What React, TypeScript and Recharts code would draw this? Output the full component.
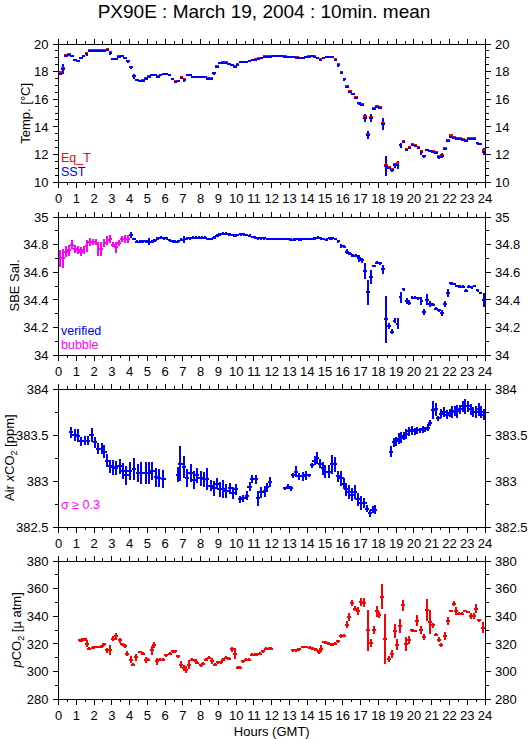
import React from 'react';
import { ScatterChart, Scatter, XAxis, YAxis, ErrorBar } from 'recharts';

// ---------------- data ----------------
const TITLE = 'PX90E : March 19, 2004 : 10min. mean';
const HOUR_LABELS = [0,1,2,3,4,5,6,7,8,9,10,11,12,13,14,15,16,17,18,19,20,21,22,23,24];
const HOUR_TICKS = [0,0.5,1,1.5,2,2.5,3,3.5,4,4.5,5,5.5,6,6.5,7,7.5,8,8.5,9,9.5,10,10.5,11,11.5,12,12.5,13,13.5,14,14.5,15,15.5,16,16.5,17,17.5,18,18.5,19,19.5,20,20.5,21,21.5,22,22.5,23,23.5,24];

// 10-minute mean time stamps (centres of the 144 ten-minute windows)
const TIME_10MIN = Array.from({ length: 144 }, (_, i) => (i + 0.5) / 6);

const TEMP_LABELS = [10,12,14,16,18,20];
const TEMP_TICKS = [10,10.5,11,11.5,12,12.5,13,13.5,14,14.5,15,15.5,16,16.5,17,17.5,18,18.5,19,19.5,20];
const SAL_LABELS = [34,34.2,34.4,34.6,34.8,35];
const SAL_TICKS = [34,34.1,34.2,34.3,34.4,34.5,34.6,34.7,34.8,34.9,35];
const AIR_LABELS = [382.5,383,383.5,384];
const AIR_TICKS = [382.5,382.75,383,383.25,383.5,383.75,384];
const PCO2_LABELS = [280,300,320,340,360,380];
const PCO2_TICKS = [280,290,300,310,320,330,340,350,360,370,380];

const SST = [
  17.86,18.2,19.15,19.2,19.1,18.83,
  18.74,18.95,19.1,19.3,19.52,19.52,
  19.52,19.52,19.52,19.52,19.6,19.35,
  18.9,18.9,19.05,19.1,18.95,18.75,
  18.3,17.65,17.38,17.31,17.33,17.5,
  17.6,17.72,17.72,17.62,17.72,17.8,
  17.8,17.72,17.43,17.26,17.3,17.55,
  17.4,17.72,17.72,17.6,17.58,17.58,
  17.58,17.58,17.5,17.48,17.87,18.35,
  18.6,18.62,18.62,18.55,18.45,18.35,
  18.5,18.68,18.68,18.7,18.75,18.82,
  18.85,18.92,18.98,19.05,19.08,19.08,
  19.1,19.1,19.1,19.1,19.08,19.05,
  19.03,19.03,19.0,18.98,18.98,19.05,
  19.08,19.1,19.08,18.95,18.85,18.95,
  19.05,19.05,19.05,18.85,18.47,17.9,
  17.45,16.9,16.55,16.35,16.1,15.7,
  15.6,14.65,13.4,14.65,15.3,15.45,
  15.35,14.2,11.15,11.05,10.85,11.2,
  11.25,12.65,12.9,12.35,12.5,12.7,
  12.62,12.5,12.15,11.85,12.3,12.22,
  12.2,12.1,11.8,11.92,12.4,13.0,
  13.25,13.2,13.12,13.12,13.05,13.0,
  13.15,13.12,13.15,12.8,12.72,12.2,
];
const SST_ERR = [
  .03,.35,.05,.04,.03,.03,
  .05,.04,.04,.15,.03,.03,
  .03,.03,.03,.03,.04,.15,
  .03,.03,.03,.04,.04,.1,
  .12,.15,.04,.04,.04,.04,
  .03,.03,.03,.03,.03,.03,
  .03,.03,.06,.04,.03,.04,
  .15,.04,.03,.03,.03,.03,
  .03,.03,.03,.04,.12,.06,
  .04,.03,.03,.03,.03,.04,
  .04,.03,.03,.03,.03,.03,
  .03,.03,.03,.03,.03,.03,
  .03,.03,.03,.03,.03,.03,
  .03,.03,.03,.03,.03,.03,
  .03,.03,.03,.05,.04,.03,
  .03,.03,.03,.05,.12,.08,
  .1,.08,.06,.06,.06,.12,
  .06,.3,.3,.3,.1,.06,
  .06,.45,.7,.1,.15,.2,
  .3,.15,.1,.12,.06,.05,
  .05,.05,.2,.12,.08,.05,
  .05,.05,.15,.15,.1,.12,
  .06,.04,.04,.04,.04,.04,
  .04,.04,.04,.1,.06,.25,
];
const EQ_T = [
  17.95,18.25,19.2,19.3,19.15,18.85,
  18.8,18.98,19.12,19.35,19.55,19.55,
  19.55,19.55,19.55,19.55,19.62,19.4,
  18.92,18.92,19.1,19.15,19.02,18.8,
  18.35,17.7,17.42,17.35,17.36,17.55,
  17.65,17.76,17.76,17.66,17.77,17.83,
  17.83,17.76,17.48,17.3,17.33,17.6,
  17.45,17.76,17.75,17.63,17.61,17.61,
  17.61,17.61,17.55,17.52,17.92,18.4,
  18.64,18.66,18.66,18.58,18.48,18.38,
  18.54,18.72,18.72,18.73,18.78,18.86,
  18.9,18.96,19.02,19.1,19.12,19.12,
  19.13,19.13,19.13,19.13,19.12,19.08,
  19.06,19.06,19.04,19.01,19.01,19.08,
  19.12,19.13,19.12,19.0,18.9,18.98,
  19.08,19.08,19.08,18.9,18.52,17.95,
  17.5,16.95,16.6,16.4,16.15,15.75,
  15.65,14.75,13.5,14.72,15.38,15.5,
  15.42,14.3,11.2,11.1,10.92,11.3,
  11.35,12.7,12.95,12.4,12.55,12.75,
  12.68,12.56,12.22,11.9,12.35,12.27,
  12.25,12.16,11.85,11.98,12.45,13.05,
  13.38,13.25,13.17,13.16,13.1,13.05,
  13.22,13.17,13.2,12.86,12.78,12.3,
];

// salinity: first 24 windows flagged "bubble", remaining 120 "verified"
const SAL_BUBBLE = [
  34.70,34.70,34.75,34.76,34.80,34.77,
  34.76,34.75,34.76,34.79,34.82,34.82,
  34.82,34.77,34.77,34.81,34.83,34.84,
  34.80,34.78,34.81,34.84,34.84,34.84,
];
const SAL_BUBBLE_ERR = [
  .06,.07,.04,.04,.03,.03,
  .03,.03,.03,.04,.03,.02,
  .02,.05,.05,.03,.03,.03,
  .02,.04,.02,.02,.03,.03,
];
const SAL_VERIFIED = [
  34.87,34.84,34.82,34.82,34.825,34.825,
  34.82,34.82,34.83,34.845,34.85,34.845,
  34.845,34.83,34.825,34.82,34.825,34.835,
  34.84,34.845,34.845,34.85,34.85,34.85,
  34.85,34.85,34.84,34.84,34.85,34.865,
  34.875,34.88,34.88,34.875,34.87,34.865,
  34.87,34.875,34.875,34.87,34.865,34.855,
  34.85,34.845,34.845,34.845,34.84,34.84,
  34.84,34.84,34.84,34.84,34.84,34.84,
  34.835,34.835,34.84,34.835,34.84,34.84,
  34.84,34.84,34.845,34.85,34.845,34.84,
  34.835,34.845,34.845,34.84,34.825,34.79,
  34.785,34.75,34.735,34.72,34.72,34.70,
  34.685,34.61,34.455,34.565,34.645,34.67,
  34.665,34.62,34.26,34.21,34.17,34.25,
  34.225,34.42,34.475,34.39,34.38,34.415,
  34.415,34.41,34.39,34.31,34.40,34.37,
  34.365,34.335,34.325,34.305,34.37,34.45,
  34.52,34.515,34.50,34.495,34.495,34.465,
  34.495,34.49,34.50,34.47,34.45,34.40,
];
const SAL_VERIFIED_ERR = [
  .02,.01,.01,.01,.01,.01,
  .025,.01,.01,.01,.01,.01,
  .01,.01,.01,.01,.01,.01,
  .025,.01,.01,.01,.01,.01,
  .01,.01,.01,.01,.01,.01,
  .01,.01,.01,.01,.01,.01,
  .01,.01,.01,.01,.01,.01,
  .01,.01,.01,.01,.01,.01,
  .01,.01,.01,.01,.01,.01,
  .01,.01,.01,.01,.01,.01,
  .01,.01,.01,.01,.01,.01,
  .01,.01,.01,.01,.01,.015,
  .01,.015,.01,.01,.01,.025,
  .02,.06,.09,.05,.01,.01,
  .01,.03,.17,.02,.02,.02,
  .04,.04,.01,.02,.015,.01,
  .01,.01,.03,.02,.04,.02,
  .01,.01,.01,.02,.02,.03,
  .01,.01,.01,.01,.01,.01,
  .01,.01,.01,.01,.01,.05,
];

const AIR_HOURS = [
  0.72,0.91,1.1,1.29,1.48,1.67,1.86,2.05,2.24,2.43,2.58,2.73,2.87,3.06,3.25,3.44,3.63,3.82,4.0,4.25,4.48,4.67,4.9,5.09,5.28,5.47,5.66,5.9,
  6.72,6.86,7.05,7.24,7.43,7.62,7.81,8.0,8.18,8.37,8.56,8.75,8.9,9.07,9.26,9.45,9.64,9.8,9.99,10.2,10.41,10.6,10.75,10.9,11.1,11.23,11.42,11.61,11.74,11.89,
  12.74,12.9,13.06,13.22,13.37,13.56,13.75,13.94,14.09,14.26,14.41,14.56,14.73,14.88,15.02,15.21,15.4,15.55,15.73,15.92,16.07,16.2,16.35,16.54,16.67,16.83,17.02,17.21,17.36,17.53,17.68,17.82,
  18.72,18.88,19.01,19.16,19.3,19.45,19.58,19.73,19.9,20.05,20.2,20.34,20.5,20.63,20.78,20.91,21.07,21.23,21.38,21.54,21.69,21.86,22.01,22.14,22.29,22.44,22.61,22.74,22.9,23.05,23.2,23.35,23.5,23.65,23.8,23.95,
];
const AIR_XCO2 = [
  383.53,383.50,383.49,383.43,383.44,383.44,383.50,383.42,383.35,383.35,383.32,383.22,383.16,383.15,383.14,383.16,383.11,383.06,383.11,383.13,383.09,383.09,383.09,383.09,383.11,383.04,383.03,383.02,
  383.07,383.19,383.15,383.03,383.09,383.01,383.06,383.03,383.02,383.02,382.95,382.92,382.97,382.91,382.91,382.89,382.92,382.87,382.91,382.80,382.81,382.84,382.94,383.02,383.02,382.81,382.88,382.89,382.93,382.99,
  382.92,382.94,382.92,383.06,383.10,383.05,383.05,383.06,383.06,383.17,383.22,383.25,383.19,383.14,383.10,383.10,383.18,383.18,383.05,383.03,382.97,382.91,382.88,382.85,382.88,382.80,382.76,382.76,382.70,382.65,382.69,382.69,
  383.32,383.42,383.43,383.46,383.47,383.49,383.51,383.54,383.55,383.54,383.55,383.55,383.56,383.56,383.58,383.63,383.77,383.78,383.68,383.73,383.75,383.72,383.74,383.75,383.76,383.76,383.78,383.81,383.81,383.81,383.78,383.75,383.75,383.78,383.75,383.72,
];
const AIR_ERR = [
  0.06,0.07,0.07,0.05,0.05,0.05,0.08,0.06,0.06,0.06,0.07,0.07,0.07,0.08,0.08,0.08,0.09,0.1,0.1,0.12,0.1,0.12,0.12,0.12,0.1,0.1,0.1,0.1,
  0.08,0.19,0.12,0.1,0.1,0.1,0.08,0.08,0.08,0.12,0.06,0.08,0.06,0.08,0.1,0.08,0.06,0.07,0.06,0.04,0.04,0.05,0.05,0.04,0.05,0.08,0.06,0.06,0.05,0.05,
  0.02,0.03,0.03,0.03,0.06,0.04,0.05,0.05,0.02,0.03,0.05,0.07,0.05,0.07,0.07,0.07,0.1,0.08,0.06,0.08,0.06,0.07,0.08,0.07,0.08,0.07,0.08,0.05,0.04,0.04,0.04,0.05,
  0.06,0.05,0.05,0.06,0.06,0.04,0.05,0.05,0.05,0.04,0.04,0.03,0.04,0.03,0.04,0.03,0.1,0.07,0.03,0.05,0.05,0.05,0.04,0.06,0.05,0.07,0.05,0.06,0.08,0.06,0.06,0.05,0.06,0.07,0.06,0.06,
];

const PCO2_HOURS = [
  1.2,1.35,1.5,1.6,1.73,1.92,2.1,2.3,2.45,2.58,2.73,2.87,3.06,3.25,3.44,3.57,3.72,3.87,4.06,4.21,
  4.37,4.56,4.75,4.9,5.05,5.24,5.39,5.56,5.72,5.9,6.06,6.25,6.42,6.57,6.72,6.9,7.05,7.19,7.35,7.52,
  7.67,7.82,8.0,8.15,8.32,8.47,8.62,8.78,8.95,9.12,9.27,9.42,9.6,9.76,9.91,10.08,10.24,10.37,10.56,10.71,
  10.87,11.04,11.19,11.36,11.51,11.66,11.83,11.98,
  13.18,13.37,13.56,13.75,13.94,14.13,14.32,14.51,14.64,14.77,14.92,15.07,15.23,15.4,15.55,15.74,15.92,16.06,16.22,16.37,
  16.52,16.69,16.86,17.01,17.17,17.4,17.59,17.74,17.9,18.06,18.23,18.4,18.57,18.74,18.92,19.07,19.24,19.41,19.58,19.73,
  19.9,20.05,20.2,20.38,20.55,20.74,20.91,21.07,21.24,21.39,21.54,21.73,21.9,22.07,22.24,22.39,22.56,22.71,22.9,23.05,
  23.2,23.37,23.52,23.69,23.88,
];
const PCO2 = [
  322.5,323,323.2,320,316.4,317.1,317.6,317.6,318.3,319.6,315.2,315.7,323.7,325.4,322.5,319.6,318.1,312.8,308.4,304.8,
  310.3,314,312.8,308.4,308.6,315.2,319.3,307.2,308.4,308.4,311.6,312.8,314.5,314.5,310.8,305,302.3,301.1,305,308.6,
  307.9,306.2,304.3,305.5,308.4,309.9,307.4,304.8,306.7,306.7,308.6,309.9,309.1,315.9,312.8,302.6,302.6,307.2,308.6,308.6,
  312,312,312.3,312.8,314.5,316.4,316.4,316.4,
  315.2,315.2,315.9,317.6,317.6,317.1,316.4,315.7,314,316.4,321.3,320.8,320,319.3,320,321.7,325.9,325.9,333.9,339.5,
  349.7,345.5,343.6,350.4,349.9,329.8,320.5,329.8,343.6,340.7,354,323.7,309.1,312.8,329.3,319.3,332.7,348,319.6,323,
  329.8,329.3,336.6,330.2,324.9,344.3,335.8,333.4,326.6,323,319.3,325.6,336.6,343.8,349.2,343.8,341.9,341.9,343.8,343.1,
  340,340,345.5,337,331.7,
];
const PCO2_ERR = [
  1,1.5,1,2.5,1,1,1,1,1,1,2,3.5,2,2.5,2,1,1.5,2,2.5,1,
  2.5,1,1,2,1,3,2,2.5,1,1,1,1,1,1,1,2.5,2,2.5,3,1,
  1,1,1,1,1,1,2,1,1,1,1,1,1,2,4,1,1,1,1,1,
  1,1,1,1,1,1,1,1,
  1,1,1,1,1,1,1,1,1.5,2.5,1,1,1,1,1,1,1.5,1,2.5,3,
  2,2,3,3,3,15,3,3,4,2,9,18,2,3,5,4,5,4,5,3,
  1,1,4,3,2,8,9,2,1,2,1.5,3,3,1,2,3,1,1,1,1,
  2,2,3,1,4,
];

// built tables for the library
const sstData = TIME_10MIN.map((x, i) => ({ x, y: SST[i], ey: SST_ERR[i] }));
const eqtData = TIME_10MIN.map((x, i) => ({ x, y: EQ_T[i] }));
const bubbleData = SAL_BUBBLE.map((y, i) => ({ x: TIME_10MIN[i], y, ey: SAL_BUBBLE_ERR[i] }));
const verifiedData = SAL_VERIFIED.map((y, i) => ({ x: TIME_10MIN[i + SAL_BUBBLE.length], y, ey: SAL_VERIFIED_ERR[i] }));
const airData = AIR_HOURS.map((x, i) => ({ x, y: AIR_XCO2[i], ey: AIR_ERR[i] }));
const pco2Data = PCO2_HOURS.map((x, i) => ({ x, y: PCO2[i], ey: PCO2_ERR[i] }));

// ---------------- layout ----------------
const FONT = '"Liberation Sans", Arial, Helvetica, sans-serif';
const W = 529;
const H = 739;
const PLOT_LEFT = 58.5;
const PLOT_RIGHT = 485;
const PLOT_H = 138;
const TOP_PAD = 25;
const BOTTOM_PAD = 30;
const PANEL_TOPS = [44.3, 216.5, 388.7, 560.9];
const BLUE = '#0000ff';
const RED = '#ff0000';
const MAGENTA = '#ff00ff';
const AXIS_LINE = { stroke: '#000', strokeWidth: 1 };
const TICK_FONT = 13;

const isMajor = (v: number, majors: number[]) => majors.some((m) => Math.abs(m - v) < 1e-6);

const BottomTick = (props: any) => {
  const { x, y, payload } = props;
  const major = isMajor(payload.value, HOUR_LABELS);
  return (
    <g>
      <line x1={x} x2={x} y1={y} y2={y + (major ? 5.5 : 3)} stroke="#000" strokeWidth={1} />
      {major ? (
        <text x={x} y={y + 21} textAnchor="middle" fontSize={TICK_FONT} fontFamily={FONT} fill="#000">
          {payload.value}
        </text>
      ) : null}
    </g>
  );
};

const TopTick = (props: any) => {
  const { x, y, payload } = props;
  const major = isMajor(payload.value, HOUR_LABELS);
  return <line x1={x} x2={x} y1={y} y2={y - (major ? 5.5 : 3)} stroke="#000" strokeWidth={1} />;
};

const makeYTick = (side: 'left' | 'right', majors: number[]) => (props: any) => {
  const { x, y, payload } = props;
  const major = isMajor(payload.value, majors);
  const dir = side === 'left' ? -1 : 1;
  const len = major ? 6 : 3.5;
  return (
    <g>
      <line x1={x} x2={x + dir * len} y1={y} y2={y} stroke="#000" strokeWidth={1} />
      {major ? (
        <text
          x={x + dir * 10}
          y={y + 4.7}
          textAnchor={side === 'left' ? 'end' : 'start'}
          fontSize={TICK_FONT}
          fontFamily={FONT}
          fill="#000"
        >
          {payload.value}
        </text>
      ) : null}
    </g>
  );
};

// horizontal dash marker: the averaging-window bar of each point
const makeDash = (color: string, halfWidth: number) => (props: any) => {
  const { cx, cy } = props;
  if (cx == null || cy == null || isNaN(cx) || isNaN(cy)) return <g />;
  return (
    <line
      x1={cx - halfWidth}
      x2={cx + halfWidth}
      y1={cy}
      y2={cy}
      stroke={color}
      strokeWidth={2}
      shapeRendering="crispEdges"
    />
  );
};

function Panel(props: { index: number; domain: [number, number]; ticks: number[]; labels: number[]; children: React.ReactNode }) {
  const { index, domain, ticks, labels, children } = props;
  const height = TOP_PAD + PLOT_H + BOTTOM_PAD;
  return (
    <div
      style={{
        position: 'absolute',
        left: 0,
        top: PANEL_TOPS[index] - TOP_PAD,
        width: W,
        height,
        shapeRendering: 'crispEdges',
      } as React.CSSProperties}
    >
      <ScatterChart width={W} height={height} margin={{ top: 0, right: 0, bottom: 0, left: 0 }}>
        <XAxis
          xAxisId="b"
          type="number"
          dataKey="x"
          orientation="bottom"
          domain={[0, 24]}
          allowDataOverflow
          ticks={HOUR_TICKS}
          interval={0}
          tickSize={0}
          tickMargin={0}
          tickLine={false}
          height={BOTTOM_PAD}
          axisLine={AXIS_LINE}
          tick={BottomTick}
        />
        <XAxis
          xAxisId="t"
          type="number"
          dataKey="x"
          orientation="top"
          domain={[0, 24]}
          allowDataOverflow
          ticks={HOUR_TICKS}
          interval={0}
          tickSize={0}
          tickMargin={0}
          tickLine={false}
          height={TOP_PAD}
          axisLine={AXIS_LINE}
          tick={TopTick}
        />
        <YAxis
          yAxisId="l"
          type="number"
          dataKey="y"
          orientation="left"
          domain={domain}
          allowDataOverflow
          ticks={ticks}
          interval={0}
          tickSize={0}
          tickMargin={0}
          tickLine={false}
          width={PLOT_LEFT}
          axisLine={AXIS_LINE}
          tick={makeYTick('left', labels)}
        />
        <YAxis
          yAxisId="r"
          type="number"
          dataKey="y"
          orientation="right"
          domain={domain}
          allowDataOverflow
          ticks={ticks}
          interval={0}
          tickSize={0}
          tickMargin={0}
          tickLine={false}
          width={W - PLOT_RIGHT}
          axisLine={AXIS_LINE}
          tick={makeYTick('right', labels)}
        />
        {children}
      </ScatterChart>
    </div>
  );
}

function series(name: string, data: any[], color: string, withY: boolean, halfWidth: number) {
  return (
    <Scatter
      key={name}
      name={name}
      data={data}
      xAxisId="b"
      yAxisId="l"
      shape={makeDash(color, halfWidth)}
      fill={color}
      isAnimationActive={false}
      legendType="none"
    >
      {withY ? (
        <ErrorBar dataKey="ey" direction="y" width={0} stroke={color} strokeWidth={2} isAnimationActive={false} />
      ) : null}
    </Scatter>
  );
}

const bottomOf = (i: number) => PANEL_TOPS[i] + PLOT_H;
const midOf = (i: number) => PANEL_TOPS[i] + PLOT_H / 2;

export default function App() {
  return (
    <div style={{ position: 'absolute', left: 0, top: 0, width: W, height: H, background: '#fff', overflow: 'hidden' }}>
      <Panel index={0} domain={[10, 20]} ticks={TEMP_TICKS} labels={TEMP_LABELS}>
        {series('Eq_T', eqtData, RED, false, 1.8)}
        {series('SST', sstData, BLUE, true, 1.8)}
      </Panel>
      <Panel index={1} domain={[34, 35]} ticks={SAL_TICKS} labels={SAL_LABELS}>
        {series('bubble', bubbleData, MAGENTA, true, 1.8)}
        {series('verified', verifiedData, BLUE, true, 1.8)}
      </Panel>
      <Panel index={2} domain={[382.5, 384]} ticks={AIR_TICKS} labels={AIR_LABELS}>
        {series('Air xCO2', airData, BLUE, true, 2.2)}
      </Panel>
      <Panel index={3} domain={[280, 380]} ticks={PCO2_TICKS} labels={PCO2_LABELS}>
        {series('pCO2', pco2Data, RED, true, 2)}
      </Panel>

      <svg
        width={W}
        height={H}
        style={{ position: 'absolute', left: 0, top: 0, pointerEvents: 'none' }}
        fontFamily={FONT}
      >
        <text x={264} y={18} textAnchor="middle" fontSize={19} fill="#000">{TITLE}</text>

        <text x={25} y={midOf(0)} dy="0.35em" textAnchor="middle" fontSize={13} fill="#000" transform={`rotate(-90 25 ${midOf(0)})`}>
          Temp. [°C]
        </text>
        <text x={14} y={midOf(1)} dy="0.35em" textAnchor="middle" fontSize={13} fill="#000" transform={`rotate(-90 14 ${midOf(1)})`}>
          SBE Sal.
        </text>
        <text x={9} y={midOf(2)} dy="0.35em" textAnchor="middle" fontSize={13} fill="#000" transform={`rotate(-90 9 ${midOf(2)})`}>
          Air <tspan fontStyle="italic">x</tspan>CO<tspan fontSize={9} dy="3">2</tspan><tspan dy="-3"> [ppm]</tspan>
        </text>
        <text x={16} y={midOf(3)} dy="0.35em" textAnchor="middle" fontSize={13} fill="#000" transform={`rotate(-90 16 ${midOf(3)})`}>
          <tspan fontStyle="italic">p</tspan>CO<tspan fontSize={9} dy="3">2</tspan><tspan dy="-3"> [µ atm]</tspan>
        </text>

        <text x={61} y={bottomOf(0) - 20} fontSize={12.5} fill={RED}>Eq_T</text>
        <text x={61} y={bottomOf(0) - 6} fontSize={12.5} fill={BLUE}>SST</text>
        <text x={61} y={bottomOf(1) - 20} fontSize={12.5} fill={BLUE}>verified</text>
        <text x={61} y={bottomOf(1) - 6} fontSize={12.5} fill={MAGENTA}>bubble</text>
        <text x={61} y={bottomOf(2) - 18} fontSize={12.5} fill={MAGENTA}>σ ≥ 0.3</text>

        <text x={(PLOT_LEFT + PLOT_RIGHT) / 2} y={736} textAnchor="middle" fontSize={13} fill="#000">Hours (GMT)</text>
      </svg>
    </div>
  );
}
